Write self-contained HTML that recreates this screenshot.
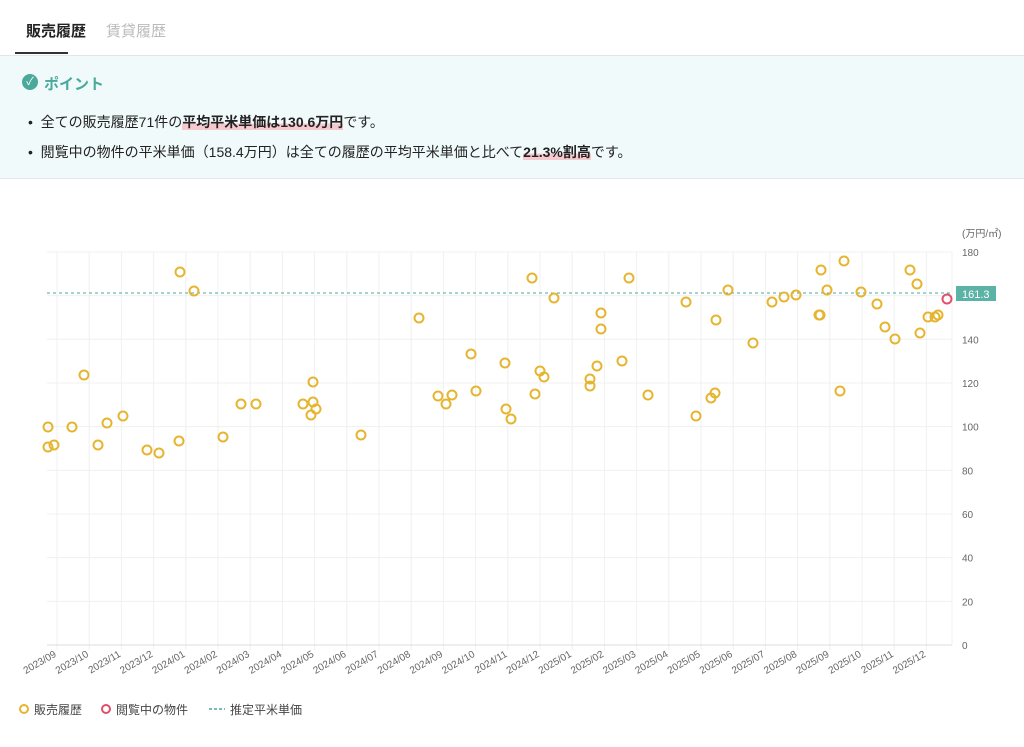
<!DOCTYPE html>
<html><head><meta charset="utf-8"><style>
body{margin:0;width:1024px;height:747px;background:#fff;font-family:"Liberation Sans","Noto Sans CJK JP",sans-serif;overflow:hidden;position:relative}
.tab{position:absolute;top:20px;font-size:15px;font-weight:bold}
.box{position:absolute;left:0;top:55px;width:1024px;height:122px;background:#f0fafa;border-top:1px solid #e3e6e8;border-bottom:1px solid #e3e6e8}
.li{position:absolute;left:28px;font-size:14px;color:#222}
.hl{font-weight:bold;background:linear-gradient(transparent 60%,#f6c9cf 60%)}
</style></head><body>
<div class="tab" style="left:26px;color:#222">販売履歴</div>
<div style="position:absolute;left:15px;top:52px;width:53px;height:2px;background:#333"></div>
<div class="tab" style="left:106px;color:#bbb;font-weight:normal">賃貸履歴</div>
<div class="box"></div>
<div style="position:absolute;left:22px;top:74px;width:16px;height:16px;border-radius:50%;background:#4aa99b;color:#fff;font-size:11px;text-align:center;line-height:16px">✓</div>
<div style="position:absolute;left:44px;top:73px;font-size:15px;color:#4aa99b;font-weight:bold">ポイント</div>
<div class="li" style="top:112px">•&nbsp;&nbsp;全ての販売履歴71件の<span class="hl">平均平米単価は130.6万円</span>です。</div>
<div class="li" style="top:142px">•&nbsp;&nbsp;閲覧中の物件の平米単価（158.4万円）は全ての履歴の平均平米単価と比べて<span class="hl">21.3%割高</span>です。</div>
<svg style="position:absolute;left:0;top:0" width="1024" height="747">
<g id="grid" stroke="#f0f0f0" stroke-width="1"></g>
<line x1="47" y1="645" x2="952" y2="645" stroke="#ddd"/>
<line x1="47" y1="293" x2="952" y2="293" stroke="#4aa99b" stroke-dasharray="3,3"/>
<g id="yl" font-size="10" fill="#666" font-family="Liberation Sans"></g>
<g id="xl" font-size="10" fill="#666" font-family="Liberation Sans"></g>
<g id="pts" fill="none" stroke="#e6b530" stroke-width="2"></g>
<rect x="956" y="286" width="40" height="15" fill="#5bb3a5"/>
<text x="962" y="298" font-size="11" fill="#fff" font-family="Liberation Sans">161.3</text>
<text x="962" y="237" font-size="10" fill="#666" font-family="Liberation Sans,Noto Sans CJK JP,sans-serif">(万円/㎡)</text>
<circle cx="947" cy="299" r="4.5" fill="none" stroke="#e0506a" stroke-width="2"/>
<circle cx="24" cy="709" r="4" fill="none" stroke="#e6b530" stroke-width="2"/>
<text x="34" y="714" font-size="12" fill="#444" font-family="Liberation Sans,Noto Sans CJK JP,sans-serif">販売履歴</text>
<circle cx="106" cy="709" r="4" fill="none" stroke="#e0506a" stroke-width="2"/>
<text x="116" y="714" font-size="12" fill="#444" font-family="Liberation Sans,Noto Sans CJK JP,sans-serif">閲覧中の物件</text>
<line x1="209" y1="709" x2="225" y2="709" stroke="#4aa99b" stroke-dasharray="3,2" stroke-width="1.5"/>
<text x="230" y="714" font-size="12" fill="#444" font-family="Liberation Sans,Noto Sans CJK JP,sans-serif">推定平米単価</text>
</svg>
<script>
const ns="http://www.w3.org/2000/svg";
function el(p,t,a,txt){const e=document.createElementNS(ns,t);for(const k in a)e.setAttribute(k,a[k]);if(txt)e.textContent=txt;document.getElementById(p).appendChild(e);}
for(let i=0;i<=9;i++){const y=645-i*43.67;if(i>0)el("grid","line",{x1:47,x2:952,y1:y,y2:y});el("yl","text",{x:962,y:y+4},String(i*20));}
const ms=[];for(let y=2023,m=9;ms.length<28;){ms.push(y+"/"+String(m).padStart(2,"0"));m++;if(m>12){m=1;y++;}}
ms.forEach((s,i)=>{const x=57+i*32.2;el("grid","line",{x1:x,x2:x,y1:252,y2:650});el("xl","text",{x:x,y:656,"text-anchor":"end",transform:`rotate(-30 ${x} 656)`},s);});
el("grid","line",{x1:952,x2:952,y1:252,y2:645});
const P=[[48,427],[48,447],[54,445],[72,427],[84,375],[98,445],[107,423],[123,416],[147,450],[159,453],[179,441],[180,272],[194,291],[223,437],[241,404],[256,404],[303,404],[311,415],[313,382],[313,402],[316,409],[361,435],[419,318],[438,396],[446,404],[452,395],[471,354],[476,391],[505,363],[506,409],[511,419],[532,278],[535,394],[540,371],[544,377],[554,298],[590,379],[590,386],[597,366],[601,313],[601,329],[622,361],[629,278],[648,395],[686,302],[696,416],[711,398],[715,393],[716,320],[728,290],[753,343],[772,302],[784,297],[796,295],[819,315],[820,315],[821,270],[827,290],[840,391],[844,261],[861,292],[877,304],[885,327],[895,339],[910,270],[917,284],[920,333],[928,317],[935,317],[938,315]];
P.forEach(p=>el("pts","circle",{cx:p[0],cy:p[1],r:4.5}));
</script>
</body></html>
